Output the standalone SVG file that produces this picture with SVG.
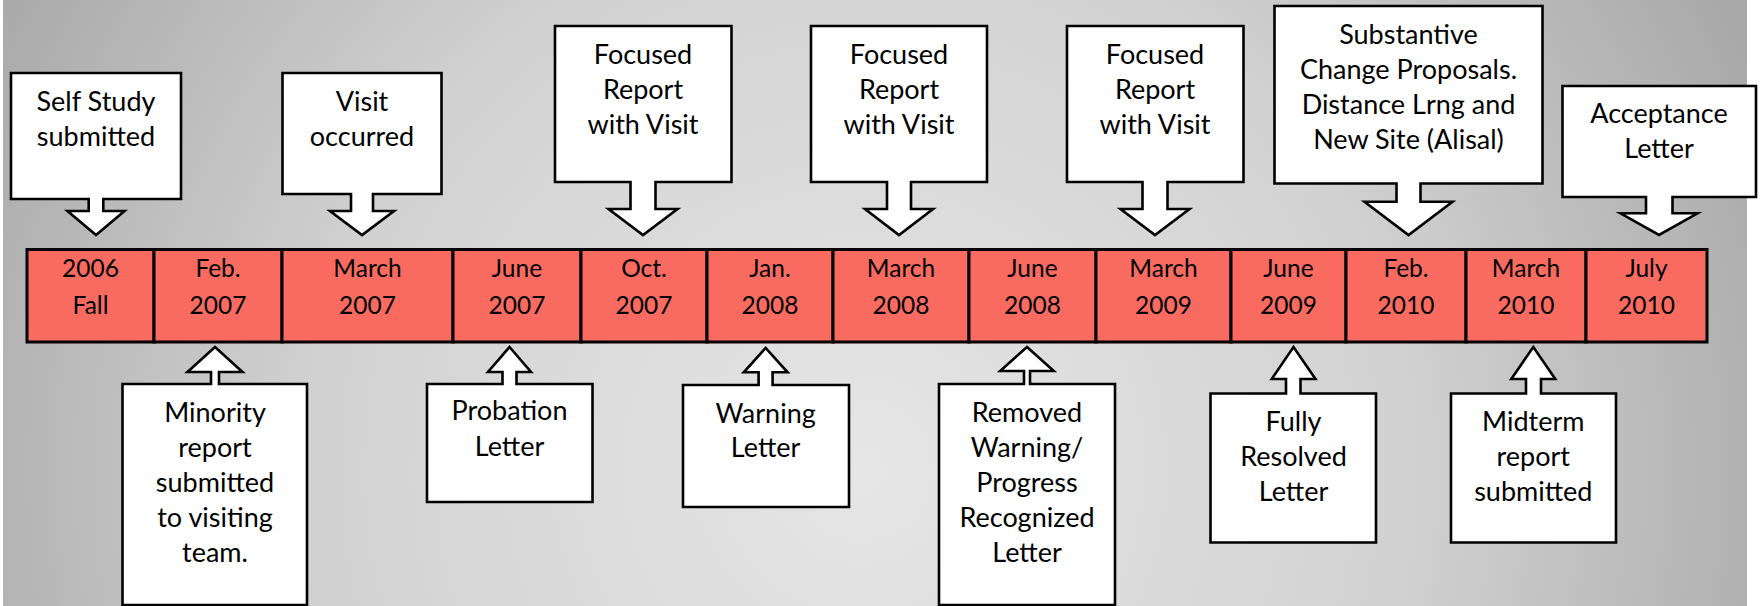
<svg xmlns="http://www.w3.org/2000/svg" width="1762" height="606" viewBox="0 0 1762 606">
<defs>
<radialGradient id="bg" gradientUnits="userSpaceOnUse" cx="860" cy="470" r="980">
<stop offset="0" stop-color="#e6e6e6"/>
<stop offset="0.55" stop-color="#d2d2d2"/>
<stop offset="1" stop-color="#a9a9a9"/>
</radialGradient>
<style>
.co{fill:#ffffff;stroke:#000000;stroke-width:2.6;stroke-linejoin:miter}
.cell{fill:#f96b61;stroke:#000000;stroke-width:3}
.t{font-family:Lato,"Liberation Sans",sans-serif;font-size:27px;fill:#000000;text-anchor:middle}
.d{font-family:Lato,"Liberation Sans",sans-serif;font-size:24.5px;fill:#000000;text-anchor:middle}
</style>
</defs>
<rect x="0" y="0" width="1762" height="606" fill="#ffffff"/>
<rect x="3" y="0" width="1744" height="606" fill="url(#bg)"/>

<g id="timeline">
<g id="cell-2006-fall"><rect class="cell" x="27" y="249.5" width="127" height="92.5"/><text class="d" x="90.5" y="276.5">2006</text><text class="d" x="90.5" y="314">Fall</text></g>
<g id="cell-feb-2007"><rect class="cell" x="154" y="249.5" width="128" height="92.5"/><text class="d" x="218" y="276.5">Feb.</text><text class="d" x="218" y="314">2007</text></g>
<g id="cell-march-2007"><rect class="cell" x="282" y="249.5" width="171" height="92.5"/><text class="d" x="367.5" y="276.5">March</text><text class="d" x="367.5" y="314">2007</text></g>
<g id="cell-june-2007"><rect class="cell" x="453" y="249.5" width="128" height="92.5"/><text class="d" x="517" y="276.5">June</text><text class="d" x="517" y="314">2007</text></g>
<g id="cell-oct-2007"><rect class="cell" x="581" y="249.5" width="126" height="92.5"/><text class="d" x="644" y="276.5">Oct.</text><text class="d" x="644" y="314">2007</text></g>
<g id="cell-jan-2008"><rect class="cell" x="707" y="249.5" width="126" height="92.5"/><text class="d" x="770" y="276.5">Jan.</text><text class="d" x="770" y="314">2008</text></g>
<g id="cell-march-2008"><rect class="cell" x="833" y="249.5" width="136" height="92.5"/><text class="d" x="901" y="276.5">March</text><text class="d" x="901" y="314">2008</text></g>
<g id="cell-june-2008"><rect class="cell" x="969" y="249.5" width="127" height="92.5"/><text class="d" x="1032.5" y="276.5">June</text><text class="d" x="1032.5" y="314">2008</text></g>
<g id="cell-march-2009"><rect class="cell" x="1096" y="249.5" width="135" height="92.5"/><text class="d" x="1163.5" y="276.5">March</text><text class="d" x="1163.5" y="314">2009</text></g>
<g id="cell-june-2009"><rect class="cell" x="1231" y="249.5" width="115" height="92.5"/><text class="d" x="1288.5" y="276.5">June</text><text class="d" x="1288.5" y="314">2009</text></g>
<g id="cell-feb-2010"><rect class="cell" x="1346" y="249.5" width="120" height="92.5"/><text class="d" x="1406" y="276.5">Feb.</text><text class="d" x="1406" y="314">2010</text></g>
<g id="cell-march-2010"><rect class="cell" x="1466" y="249.5" width="120" height="92.5"/><text class="d" x="1526" y="276.5">March</text><text class="d" x="1526" y="314">2010</text></g>
<g id="cell-july-2010"><rect class="cell" x="1586" y="249.5" width="121" height="92.5"/><text class="d" x="1646.5" y="276.5">July</text><text class="d" x="1646.5" y="314">2010</text></g>
</g>

<g id="connectors"></g>

<g id="self-study">
<path class="co" d="M11,73 H181 V199 H103.3 V211 H124.5 L96,235 L67.5,211 H88.7 V199 H11 Z"/>
<text class="t" x="96" y="110.7">Self Study</text><text class="t" x="96" y="145.7">submitted</text>
</g>
<g id="visit-occurred">
<path class="co" d="M282.5,73 H441.5 V194 H373 V211 H394 L362,235 L330,211 H351 V194 H282.5 Z"/>
<text class="t" x="362" y="110.7">Visit</text><text class="t" x="362" y="145.7">occurred</text>
</g>
<g id="focused-2007">
<path class="co" d="M555,26 H731.5 V182 H655.5 V209 H677.5 L643,235 L608.5,209 H630.5 V182 H555 Z"/>
<text class="t" x="643" y="64">Focused</text><text class="t" x="643" y="99">Report</text><text class="t" x="643" y="133.5">with Visit</text>
</g>
<g id="focused-2008">
<path class="co" d="M811,26 H987 V182 H911 V209 H933 L899,235 L865,209 H887 V182 H811 Z"/>
<text class="t" x="899" y="64">Focused</text><text class="t" x="899" y="99">Report</text><text class="t" x="899" y="133.5">with Visit</text>
</g>
<g id="focused-2009">
<path class="co" d="M1067,26 H1243.5 V182 H1167.5 V209 H1189.5 L1155,235 L1120.5,209 H1142.5 V182 H1067 Z"/>
<text class="t" x="1155" y="64">Focused</text><text class="t" x="1155" y="99">Report</text><text class="t" x="1155" y="133.5">with Visit</text>
</g>
<g id="substantive-change">
<path class="co" d="M1274.5,6 H1542.5 V183.5 H1420.5 V201.7 H1452.5 L1408.5,235 L1364.5,201.7 H1396.5 V183.5 H1274.5 Z"/>
<text class="t" x="1408.5" y="44.3">Substantive</text><text class="t" x="1408.5" y="79">Change Proposals.</text><text class="t" x="1408.5" y="114">Distance Lrng and</text><text class="t" x="1408.5" y="149">New Site (Alisal)</text>
</g>
<g id="acceptance-letter">
<path class="co" d="M1562.5,86 H1756 V197 H1672.5 V213.3 H1697.5 L1659,235 L1620.5,213.3 H1646 V197 H1562.5 Z"/>
<text class="t" x="1659" y="123.3">Acceptance</text><text class="t" x="1659" y="157.7">Letter</text>
</g>

<g id="minority-report">
<path class="co" d="M122.5,384 H211 V372 H187.5 L215,347 L242.5,372 H219 V384 H307 V605 H122.5 Z"/>
<text class="t" x="215" y="421.7">Minority</text><text class="t" x="215" y="456.7">report</text><text class="t" x="215" y="491.7">submitted</text><text class="t" x="215" y="526.7">to visiting</text><text class="t" x="215" y="561.7">team.</text>
</g>
<g id="probation-letter">
<path class="co" d="M427,384 H502.5 V372 H488 L509.5,347 L531,372 H516.5 V384 H592.5 V502 H427 Z"/>
<text class="t" x="509.5" y="420">Probation</text><text class="t" x="509.5" y="456">Letter</text>
</g>
<g id="warning-letter">
<path class="co" d="M683,385 H758.6 V372.3 H743.8 L765.6,348 L787.6,372.3 H772.6 V385 H849 V507 H683 Z"/>
<text class="t" x="765.6" y="422.7">Warning</text><text class="t" x="765.6" y="457.3">Letter</text>
</g>
<g id="removed-warning">
<path class="co" d="M939,384 H1024 V371 H1000.2 L1027,347 L1053.8,371 H1030 V384 H1115 V605 H939 Z"/>
<text class="t" x="1027" y="421.7">Removed</text><text class="t" x="1027" y="456.7">Warning/</text><text class="t" x="1027" y="491.5">Progress</text><text class="t" x="1027" y="526.7">Recognized</text><text class="t" x="1027" y="561.7">Letter</text>
</g>
<g id="fully-resolved">
<path class="co" d="M1210.5,393.5 H1286 V379 H1271.7 L1293.5,347 L1315.5,379 H1300.5 V393.5 H1376 V542.5 H1210.5 Z"/>
<text class="t" x="1293.5" y="430.7">Fully</text><text class="t" x="1293.5" y="465.7">Resolved</text><text class="t" x="1293.5" y="500.7">Letter</text>
</g>
<g id="midterm-report">
<path class="co" d="M1451,393.5 H1526 V379 H1511.3 L1533.3,347 L1555.3,379 H1541 V393.5 H1616 V542.5 H1451 Z"/>
<text class="t" x="1533.3" y="430.7">Midterm</text><text class="t" x="1533.3" y="465.7">report</text><text class="t" x="1533.3" y="500.7">submitted</text>
</g>
</svg>
